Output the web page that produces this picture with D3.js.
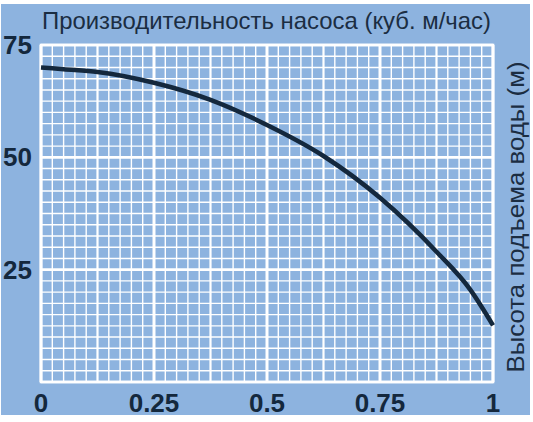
<!DOCTYPE html>
<html>
<head>
<meta charset="utf-8">
<script src="https://cdn.jsdelivr.net/npm/d3@7"></script>
<style>
  body { margin: 0; background: #fff; }
  svg { display: block; }
</style>
</head>
<body>
<div id="chart"></div>
<script>
// pump curve: flow (x) vs head (y)
const flow = [0, 0.05, 0.125, 0.25, 0.375, 0.5, 0.625, 0.75, 0.875, 0.95, 1];
const head = [70, 69.6, 69, 66.6, 62.8, 57.2, 50.3, 41, 29, 20.5, 12.6];
const xTicks = [0, 0.25, 0.5, 0.75, 1];
const xTickLabels = ["0", "0.25", "0.5", "0.75", "1"];
const yTicks = [25, 50, 75];
const titleText = "Производительность насоса (куб. м/час)";
const yLabelText = "Высота подъема воды (м)";

const width = 533, height = 422;
const margin = { top: 45, right: 40, bottom: 40, left: 41 };
const blue = "#8db3df";
const ink = "#14283d";

const svg = d3.select("#chart").append("svg")
  .attr("width", width)
  .attr("height", height);

svg.append("rect")
  .attr("x", 1).attr("y", 4)
  .attr("width", 529).attr("height", 411)
  .attr("fill", blue);

const x = d3.scaleLinear().domain([0, 1]).range([margin.left, width - margin.right]);
const y = d3.scaleLinear().domain([0, 75]).range([height - margin.bottom, margin.top]);

var grid = svg.append("g").attr("stroke", "#fff");

// vertical lines every 0.025, heavier at 0.125 and 0.25
grid.selectAll("line.v")
  .data(d3.range(0, 41).map((i) => i / 40))
  .join("line")
  .attr("class", "v")
  .attr("x1", (d) => x(d)).attr("x2", (d) => x(d))
  .attr("y1", y(0)).attr("y2", y(75))
  .attr("stroke-width", (_, i) => (i % 10 == 0 ? 3 : i % 5 == 0 ? 2.2 : 1.4));

// horizontal lines every 2.5
grid.selectAll("line.h")
  .data(d3.range(0, 31).map((i) => i * 2.5))
  .join("line")
  .attr("class", "h")
  .attr("y1", (d) => y(d)).attr("y2", (d) => y(d))
  .attr("x1", x(0)).attr("x2", x(1))
  .attr("stroke-width", (_, i) => (i % 10 == 0 ? 2.6 : 1.4));

grid.append("rect")
  .attr("x", x(0)).attr("y", y(75))
  .attr("width", x(1) - x(0)).attr("height", y(0) - y(75))
  .attr("fill", "none")
  .attr("stroke-width", 2.6);

// curve
const line = d3.line()
  .x((d) => x(d[0]))
  .y((d) => y(d[1]))
  .curve(d3.curveMonotoneX);

svg.append("path")
  .datum(d3.zip(flow, head))
  .attr("d", line)
  .attr("fill", "none")
  .attr("stroke", ink)
  .attr("stroke-width", 4.5);

// tick labels
svg.append("g")
  .attr("font-family", "Liberation Sans, Arial, sans-serif")
  .attr("font-weight", "bold")
  .attr("font-size", 26)
  .attr("fill", ink)
  .attr("text-anchor", "middle")
  .selectAll("text")
  .data(xTicks)
  .join("text")
  .attr("x", (d) => x(d))
  .attr("y", 412)
  .text((d, i) => xTickLabels[i]);

svg.append("g")
  .attr("font-family", "Liberation Sans, Arial, sans-serif")
  .attr("font-weight", "bold")
  .attr("font-size", 26)
  .attr("fill", ink)
  .attr("text-anchor", "start")
  .selectAll("text")
  .data(yTicks)
  .join("text")
  .attr("x", 3)
  .attr("y", (d) => y(d) + 9)
  .text((d) => d);

svg.append("text")
  .attr("x", 42)
  .attr("y", 29)
  .attr("font-family", "Liberation Sans, Arial, sans-serif")
  .attr("font-size", 24)
  .attr("textLength", 449)
  .attr("lengthAdjust", "spacingAndGlyphs")
  .attr("fill", "#1b2d42")
  .text(titleText);

svg.append("text")
  .attr("transform", "translate(524," + 217 + ") rotate(-90)")
  .attr("text-anchor", "middle")
  .attr("font-family", "Liberation Sans, Arial, sans-serif")
  .attr("font-size", 24)
  .attr("textLength", 311)
  .attr("lengthAdjust", "spacingAndGlyphs")
  .attr("fill", "#1b2d42")
  .text(yLabelText);
</script>
</body>
</html>
